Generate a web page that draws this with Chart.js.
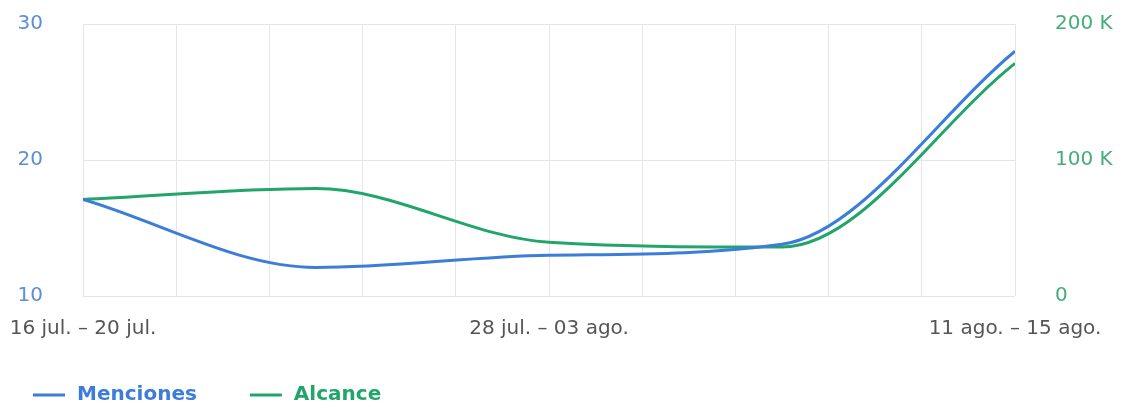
<!DOCTYPE html>
<html>
<head>
<meta charset="utf-8">
<script src="https://cdn.jsdelivr.net/npm/chart.js@4"></script>
<style>
  html, body { margin: 0; padding: 0; background: #fff; }
  #wrap { width: 1126px; height: 409px; }
</style>
</head>
<body>
<div id="wrap"><canvas id="chart" width="1126" height="409"></canvas></div>
<script>
// ── DATA ───────────────────────────────────────────────────────────────────
const periods = ["16 jul. – 20 jul.", "21 jul. – 27 jul.", "28 jul. – 03 ago.", "04 ago. – 10 ago.", "11 ago. – 15 ago."];
const menciones = [17.1, 12.1, 13.0, 13.8, 28.0];
const alcance = [71000, 79000, 39500, 36000, 171000];

// ── STYLE ──────────────────────────────────────────────────────────────────
const fontFam = "'DejaVu Sans', sans-serif";
const blue = "#3b7dd8";
const green = "#22a56a";
const gridColor = "#e6e6e6";

// fixed axis sizes; drop the extra label padding Chart.js adds to the layout
const fixSize = (w, h) => s => {
  if (w != null) s.width = w;
  if (h != null) s.height = h;
  s.paddingTop = s.paddingBottom = s.paddingLeft = s.paddingRight = 0;
};

// Simple bottom-left legend: short line + coloured bold label per dataset
const bottomLegend = {
  id: "bottomLegend",
  afterDraw(chart) {
    const ctx = chart.ctx;
    let x = 33;
    const y = 395;
    ctx.save();
    ctx.font = "bold 20px " + fontFam;
    ctx.textBaseline = "middle";
    chart.data.datasets.forEach(ds => {
      ctx.strokeStyle = ds.borderColor;
      ctx.lineWidth = 3;
      ctx.beginPath();
      ctx.moveTo(x, y);
      ctx.lineTo(x + 32, y);
      ctx.stroke();
      ctx.fillStyle = ds.borderColor;
      ctx.fillText(ds.label, x + 44, y);
      x += 44 + ctx.measureText(ds.label).width + 53;
    });
    ctx.restore();
  },
};

new Chart(document.getElementById("chart"), {
  type: "line",
  data: {
    datasets: [
      {
        label: "Menciones", yAxisID: "y",
        data: menciones.map((v, i) => ({ x: i, y: v })),
        borderColor: blue, borderWidth: 3, pointRadius: 0, fill: false,
        cubicInterpolationMode: "monotone",
      },
      {
        label: "Alcance", yAxisID: "y1",
        data: alcance.map((v, i) => ({ x: i, y: v })),
        borderColor: green, borderWidth: 3, pointRadius: 0, fill: false,
        cubicInterpolationMode: "monotone",
      },
    ],
  },
  options: {
    responsive: false, animation: false,
    layout: { padding: { left: 0, right: 0, top: 24, bottom: 0 } },
    plugins: {
      tooltip: { enabled: false },
      legend: { display: false },
    },
    scales: {
      x: {
        type: "linear", min: 0, max: periods.length - 1,
        grid: { color: gridColor, drawTicks: false },
        border: { display: false },
        ticks: {
          stepSize: 0.4, autoSkip: false, maxRotation: 0, padding: 21,
          color: "#555", font: { family: fontFam, size: 20 },
          callback: v => (v % 2 === 0 ? periods[v] : ""),
        },
        afterFit: fixSize(null, 113),
      },
      y: {
        position: "left", min: 10, max: 30,
        grid: { color: gridColor, drawTicks: false },
        border: { display: false },
        ticks: { stepSize: 10, padding: 40, color: "#5b8fd6", font: { family: fontFam, size: 20 } },
        afterFit: fixSize(83, null),
      },
      y1: {
        position: "right", min: 0, max: 200000,
        grid: { display: false, drawTicks: false },
        border: { display: false },
        ticks: {
          stepSize: 100000, padding: 40, color: "#45ad7b", font: { family: fontFam, size: 20 },
          callback: v => (v === 0 ? "0" : v / 1000 + " K"),
        },
        afterFit: fixSize(111, null),
      },
    },
  },
  plugins: [bottomLegend],
});
</script>
</body>
</html>
